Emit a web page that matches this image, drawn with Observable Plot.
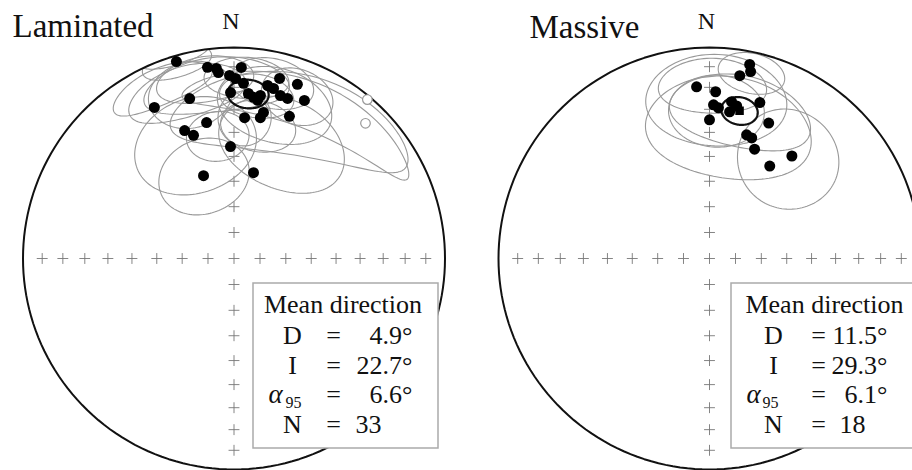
<!DOCTYPE html>
<html><head><meta charset="utf-8">
<script src="https://cdn.jsdelivr.net/npm/d3@7"></script>
<script src="https://cdn.jsdelivr.net/npm/@observablehq/plot@0.6"></script>
<style>body{margin:0;background:#fff}#chart{width:912px;height:470px;overflow:hidden}</style>
</head><body><div id="chart"></div>
<script>
// ---------- DATA ----------
const panelTitles = ["Laminated", "Massive"];
// Laminated: lower-hemisphere site directions (declination, inclination, degrees)
const lamDec = [343.7, 352.1, 354.7, 355.2, 2.2, 358.6, 0.5, 3.1, 358.8, 5.0, 6.9, 9.2, 8.5, 11.0, 13.1, 14.2, 20.0, 15.9, 18.5, 24.0, 332.2, 344.5, 348.6, 338.9, 341.8, 4.3, 10.6, 11.4, 21.3, 358.2, 339.8, 12.8];
const lamInc = [3.1, 9.4, 10.5, 12.6, 10.3, 14.3, 15.8, 18.0, 22.4, 22.6, 24.1, 22.8, 25.2, 17.6, 18.4, 13.0, 13.2, 20.8, 21.1, 19.1, 20.2, 22.4, 34.6, 35.3, 38.5, 33.5, 32.6, 30.1, 28.5, 45.9, 55.6, 55.7];
// Laminated: upper-hemisphere directions (open symbols)
const lamUpDec = [40.0, 44.2];
const lamUpInc = [-1.9, -11.6];
// Laminated confidence ellipses: centre dec/inc, semi-axes (deg, along declination / inclination), tilt
const lamEllDec = [339.8, 341, 352.4, 23, 10.4, 354, 350.7, 12.3, 15, 22, 25, 343.9, 343.7, 4, 21.3, 4.3, 8, 345.2, 337];
const lamEllInc = [55.6, 42, 41, 40, 36.1, 17.7, 14.6, 15.7, 24.9, 26, 20, 18.3, 3.1, 15, 18.3, 33.5, 23, 20.2, 12];
const lamEllA   = [17, 22, 11, 23, 13, 23, 15, 13, 19, 42, 40, 19, 10, 13, 11.5, 9, 12, 13.5, 16];
const lamEllB   = [15, 20, 10.5, 19, 11, 13, 11, 12, 17, 18, 11, 12, 8, 10, 13, 12, 10, 15.5, 9];
const lamEllRot = [0, 0, 0, 0, 0, 0, 0, 0, 0, 20, 8, 0, 0, 0, 0, 0, 0, 0, 0];
// Massive
const masDec = [11.7, 12.4, 9.4, 355.7, 2.1, 1.5, 3.4, 8.0, 7.8, 17.9, 0.0, 23.6, 16.7, 19.3, 22.4, 38.8, 33.1, 10.1];
const masInc = [6.8, 10.2, 13.2, 19.5, 22.0, 28.0, 29.2, 25.9, 30.5, 23.4, 34.6, 30.6, 38.7, 39.3, 43.3, 37.7, 46.6, 27.4];
const masEllDec = [12.8, 1, 2.5, 12.2, 8.6, 38.3, 2.7];
const masEllInc = [10.6, 18.7, 24.6, 28.7, 36.2, 39.1, 30.1];
const masEllA   = [10, 17, 23, 24, 29, 18, 16];
const masEllB   = [10, 13, 21, 16, 22, 21, 16];
const masEllRot = [0, 0, 0, 0, 0, 0, 0];
// Mean directions
const meanDec = [4.9, 11.5];
const meanInc = [22.7, 29.3];
const meanA95 = [6.6, 6.1];
const meanN   = [33, 18];
// Grid ticks (inclination every 10 deg along the four cardinal directions)
const tickInc = [10, 20, 30, 40, 50, 60, 70, 80];
const tickDec = [0, 90, 180, 270];
const legendHead = "Mean direction";

// ---------- GEOMETRY ----------
const rad = Math.PI / 180, R = 211, W = 912, H = 470;
const ux = px => (px - 233.5) / R;
const uy = py => (258 - py) / R;
const offs = [0, ux(709)];
function dirVec(dec, inc) { const D = dec * rad, I = inc * rad; return [Math.cos(I) * Math.cos(D), Math.cos(I) * Math.sin(D), Math.sin(I)]; }
function projVec(n, e, d) {
  const h = Math.hypot(n, e), r = Math.sqrt(Math.max(0, 1 - Math.abs(d)));
  return h === 0 ? [0, 0] : [r * e / h, r * n / h];
}
const proj = (dec, inc) => projVec(...dirVec(dec, inc));
function ellipse(dec, inc, a, b, rot) {
  const D = dec * rad, I = inc * rad, r = rot * rad, c = dirVec(dec, inc);
  const eI = [-Math.sin(I) * Math.cos(D), -Math.sin(I) * Math.sin(D), Math.cos(I)];
  const eD = [-Math.sin(D), Math.cos(D), 0];
  const u = eI.map((x, k) => x * Math.cos(r) + eD[k] * Math.sin(r));
  const v = eI.map((x, k) => -x * Math.sin(r) + eD[k] * Math.cos(r));
  const ta = Math.tan(a * rad), tb = Math.tan(b * rad);
  return d3.range(0, 361, 3).map(t => {
    const T = t * rad;
    const p = c.map((x, k) => x + tb * Math.cos(T) * u[k] + ta * Math.sin(T) * v[k]);
    const n = Math.hypot(...p);
    return projVec(p[0] / n, p[1] / n, p[2] / n);
  });
}

// ---------- TABLES ----------
const prim = [], ticks = [], ells = [], means95 = [], pts = [], upPts = [], meanPts = [];
[0, 1].forEach(k => {
  d3.range(0, 361, 2).forEach(a => { const [x, y] = proj(a, 0); prim.push({x: x + offs[k], y, k}); });
  ticks.push({x: offs[k], y: 0});
  tickDec.forEach(d => tickInc.forEach(i => { const [x, y] = proj(d, i); ticks.push({x: x + offs[k], y}); }));
  ellipse(meanDec[k], meanInc[k], meanA95[k], meanA95[k], 0).forEach(([x, y]) => means95.push({x: x + offs[k], y, k}));
  const [mx, my] = proj(meanDec[k], meanInc[k]); meanPts.push({x: mx + offs[k], y: my});
});
const addEll = (k, D, I, A, B, Rt) => D.forEach((d, j) => ellipse(d, I[j], A[j], B[j], Rt[j]).forEach(([x, y]) => ells.push({x: x + offs[k], y, id: k + "-" + j})));
addEll(0, lamEllDec, lamEllInc, lamEllA, lamEllB, lamEllRot);
addEll(1, masEllDec, masEllInc, masEllA, masEllB, masEllRot);
lamDec.forEach((d, j) => { const [x, y] = proj(d, lamInc[j]); pts.push({x, y}); });
masDec.forEach((d, j) => { const [x, y] = proj(d, masInc[j]); pts.push({x: x + offs[1], y}); });
lamUpDec.forEach((d, j) => { const [x, y] = proj(d, lamUpInc[j]); upPts.push({x, y}); });

// legend
const boxes = [{x1: ux(253), x2: ux(438), y1: uy(283), y2: uy(448)}, {x1: ux(731), x2: ux(960), y1: uy(283), y2: uy(448)}];
const legX = [{lab: 292, eq: 333, valEnd: 412, nStart: 355, alpha: 268, sub: 285, head: 342.5},
              {lab: 773, eq: 818, valEnd: 887, nStart: 839, alpha: 746, sub: 762, head: 824}];
const rowY = [343, 373, 402, 432];
const serif = "'Liberation Serif', 'Times New Roman', serif";
const heads = [], labs = [], eqs = [], vals = [], nvals = [], alphas = [], subs = [];
[0, 1].forEach(k => {
  const L = legX[k];
  heads.push({x: ux(L.head), y: uy(312), t: legendHead});
  [["D", 0], ["I", 1], ["N", 3]].forEach(([t, r]) => labs.push({x: ux(L.lab), y: uy(rowY[r]), t}));
  rowY.forEach(yy => eqs.push({x: ux(L.eq), y: uy(yy), t: "="}));
  [meanDec[k], meanInc[k], meanA95[k]].forEach((v, r) => vals.push({x: ux(L.valEnd), y: uy(rowY[r]), t: v.toFixed(1) + "°"}));
  nvals.push({x: ux(L.nStart), y: uy(rowY[3]), t: String(meanN[k])});
  alphas.push({x: ux(L.alpha), y: uy(rowY[2]), t: "α"});
  subs.push({x: ux(L.sub), y: uy(rowY[2] + 5), t: "95"});
});
const titles = [{x: ux(12), y: uy(36), t: panelTitles[0]}, {x: ux(529), y: uy(37), t: panelTitles[1]}];
const norths = [0, 1].map(k => { const [x, y] = proj(0, 0); return {x: x + offs[k], y, t: "N"}; });

const chart = Plot.plot({
  width: W, height: H, margin: 0,
  x: {domain: [ux(0), ux(W)], axis: null},
  y: {domain: [uy(H), uy(0)], axis: null},
  style: {background: "white"},
  marks: [
    Plot.dot(ticks, {x: "x", y: "y", symbol: "plus", r: 3.6, stroke: "#777", strokeWidth: 0.9}),
    Plot.line(ells, {x: "x", y: "y", z: "id", stroke: "#999", strokeWidth: 1.1}),
    Plot.line(prim, {x: "x", y: "y", z: "k", stroke: "#111", strokeWidth: 2}),
    Plot.line(means95, {x: "x", y: "y", z: "k", stroke: "#111", strokeWidth: 2.2}),
    Plot.dot(upPts, {x: "x", y: "y", r: 4.8, fill: "white", stroke: "#999", strokeWidth: 1.2}),
    Plot.dot(pts, {x: "x", y: "y", r: 5.5, fill: "black"}),
    Plot.dot(meanPts, {x: "x", y: "y", symbol: "square", r: 4.8, fill: "black"}),
    Plot.rect(boxes, {x1: "x1", x2: "x2", y1: "y1", y2: "y2", fill: "white", stroke: "#aaa", strokeWidth: 1.5}),
    Plot.text(heads, {x: "x", y: "y", text: "t", lineAnchor: "bottom", textAnchor: "middle", fontSize: 26, fontFamily: serif, fill: "#111"}),
    Plot.text(labs, {x: "x", y: "y", text: "t", lineAnchor: "bottom", textAnchor: "middle", fontSize: 26, fontFamily: serif, fill: "#111"}),
    Plot.text(eqs, {x: "x", y: "y", text: "t", lineAnchor: "bottom", textAnchor: "middle", fontSize: 26, fontFamily: serif, fill: "#111"}),
    Plot.text(vals, {x: "x", y: "y", text: "t", lineAnchor: "bottom", textAnchor: "end", fontSize: 26, fontFamily: serif, fill: "#111"}),
    Plot.text(nvals, {x: "x", y: "y", text: "t", lineAnchor: "bottom", textAnchor: "start", fontSize: 26, fontFamily: serif, fill: "#111"}),
    Plot.text(alphas, {x: "x", y: "y", text: "t", lineAnchor: "bottom", textAnchor: "start", fontSize: 27, fontStyle: "italic", fontFamily: serif, fill: "#111"}),
    Plot.text(subs, {x: "x", y: "y", text: "t", lineAnchor: "bottom", textAnchor: "start", fontSize: 16, fontFamily: serif, fill: "#111"}),
    Plot.text(titles, {x: "x", y: "y", text: "t", lineAnchor: "bottom", textAnchor: "start", fontSize: 33, fontFamily: serif, fill: "#111"}),
    Plot.text(norths, {x: "x", y: "y", text: "t", lineAnchor: "bottom", textAnchor: "middle", dy: -19, dx: -3, fontSize: 24, fontFamily: serif, fill: "#111"})
  ]
});
document.getElementById("chart").append(chart);
</script></body></html>
